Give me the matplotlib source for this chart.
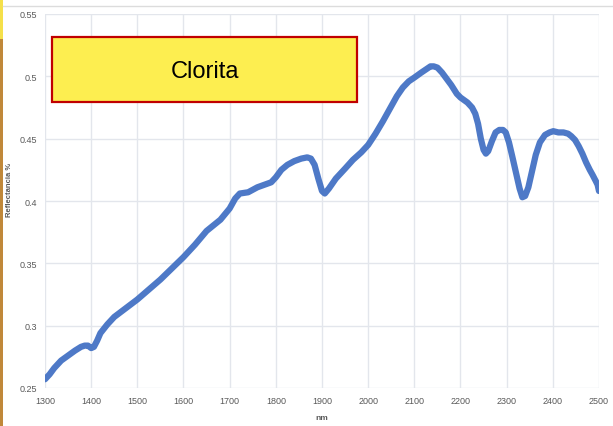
import matplotlib
matplotlib.use("Agg")
import matplotlib.pyplot as plt
from matplotlib.patches import Rectangle
from matplotlib.lines import Line2D

# Reflectance spectrum of chlorite (wavelength in nm, reflectance fraction)
wavelength = [1300, 1310, 1320, 1335, 1350, 1365, 1378, 1386, 1393, 1400, 1406, 1413, 1420,
              1435, 1450, 1475, 1500, 1525, 1550, 1575, 1600, 1625, 1650, 1680,
              1700, 1712, 1722, 1740, 1760, 1790, 1800, 1812, 1825, 1840, 1855, 1868, 1876,
              1884, 1892, 1900, 1906, 1915, 1930, 1950, 1967, 1985, 2000, 2016, 2032, 2047,
              2062, 2075, 2088, 2100, 2115, 2127, 2135, 2142, 2150, 2160, 2170, 2180, 2192,
              2200, 2215, 2225, 2232, 2238, 2244, 2250, 2255, 2260, 2268, 2276, 2284, 2292,
              2298, 2305, 2312, 2320, 2328, 2334, 2340, 2347, 2355, 2363, 2372, 2383,
              2393, 2401, 2412, 2423, 2433, 2440, 2448, 2456, 2464, 2472, 2480, 2486, 2493,
              2497, 2500]
reflectance = [0.257, 0.261, 0.266, 0.272, 0.276, 0.280, 0.283, 0.284, 0.284, 0.282, 0.283,
               0.288, 0.294, 0.301, 0.307, 0.314, 0.321, 0.329, 0.337, 0.346, 0.355, 0.365,
               0.376, 0.385, 0.394, 0.402, 0.406, 0.407, 0.411, 0.415, 0.419, 0.425, 0.429,
               0.432, 0.434, 0.435, 0.434, 0.429, 0.418, 0.408, 0.406, 0.410, 0.418, 0.426,
               0.433, 0.439, 0.445, 0.454, 0.464, 0.474, 0.484, 0.491, 0.496, 0.499, 0.503,
               0.506, 0.508, 0.508, 0.507, 0.503, 0.498, 0.493, 0.486, 0.483, 0.479, 0.475,
               0.470, 0.462, 0.450, 0.441, 0.438, 0.440, 0.448, 0.455, 0.457, 0.457, 0.455,
               0.447, 0.436, 0.423, 0.410, 0.403, 0.404, 0.411, 0.424, 0.437, 0.447, 0.453,
               0.455, 0.456, 0.455, 0.455, 0.454, 0.452, 0.449, 0.444, 0.438, 0.431, 0.425,
               0.421, 0.416, 0.413, 0.408]

x_ticks = [1300, 1400, 1500, 1600, 1700, 1800, 1900, 2000, 2100, 2200, 2300, 2400, 2500]
y_ticks = [0.25, 0.30, 0.35, 0.40, 0.45, 0.50, 0.55]
y_tick_labels = ["0.25", "0.3", "0.35", "0.4", "0.45", "0.5", "0.55"]

plt.rcParams['font.family'] = ['Liberation Sans', 'DejaVu Sans']

W, H = 613, 427
fig = plt.figure(figsize=(W / 100, H / 100), dpi=100)
fig.patch.set_facecolor("white")

ax = fig.add_axes([45 / W, 1 - 389 / H, (599 - 45) / W, (389 - 15) / H])
ax.set_xlim(1300, 2500)
ax.set_ylim(0.25, 0.55)
ax.set_xticks(x_ticks)
ax.set_yticks(y_ticks)
ax.set_yticklabels(y_tick_labels)
ax.grid(True, color="#e3e6ec", linewidth=1.0)
ax.set_axisbelow(True)
for s in ax.spines.values():
    s.set_visible(False)
ax.tick_params(length=0, labelsize=6.5, labelcolor="#595959", pad=6)

ax.plot(wavelength, reflectance, color="#4472c4", linewidth=4.5,
        solid_capstyle="round", solid_joinstyle="round", alpha=0.95)

ax.set_xlabel("nm", fontsize=6, color="#595959", fontweight="bold", labelpad=6)

# Axis title on the left, drawn at figure level
fig.text(10 / W, 1 - 190 / H, "Reflectancia %", fontsize=5.5, color="#595959",
         fontweight="bold", rotation=90, ha="center", va="center")

# Title box
fig.patches.append(Rectangle((52 / W, 1 - 103 / H), (357 - 52) / W, (103 - 38) / H,
                             transform=fig.transFigure, facecolor="#fdee50",
                             edgecolor="#c00000", linewidth=1.6, zorder=5))
fig.text(205 / W, 1 - 72 / H, "Clorita", fontsize=17, color="black",
         ha="center", va="center", zorder=6)

# Page frame details
fig.lines.append(Line2D([3 / W, 1], [1 - 7 / H, 1 - 7 / H], transform=fig.transFigure,
                        color="#dcdcdc", linewidth=1.0))
fig.patches.append(Rectangle((0, 1 - 40 / H), 3 / W, 40 / H, transform=fig.transFigure,
                             facecolor="#f5e04a", edgecolor="none"))
fig.patches.append(Rectangle((0, 0), 3 / W, 1 - 40 / H, transform=fig.transFigure,
                             facecolor="#c0883a", edgecolor="none"))

fig.savefig("out.png", dpi=100)
